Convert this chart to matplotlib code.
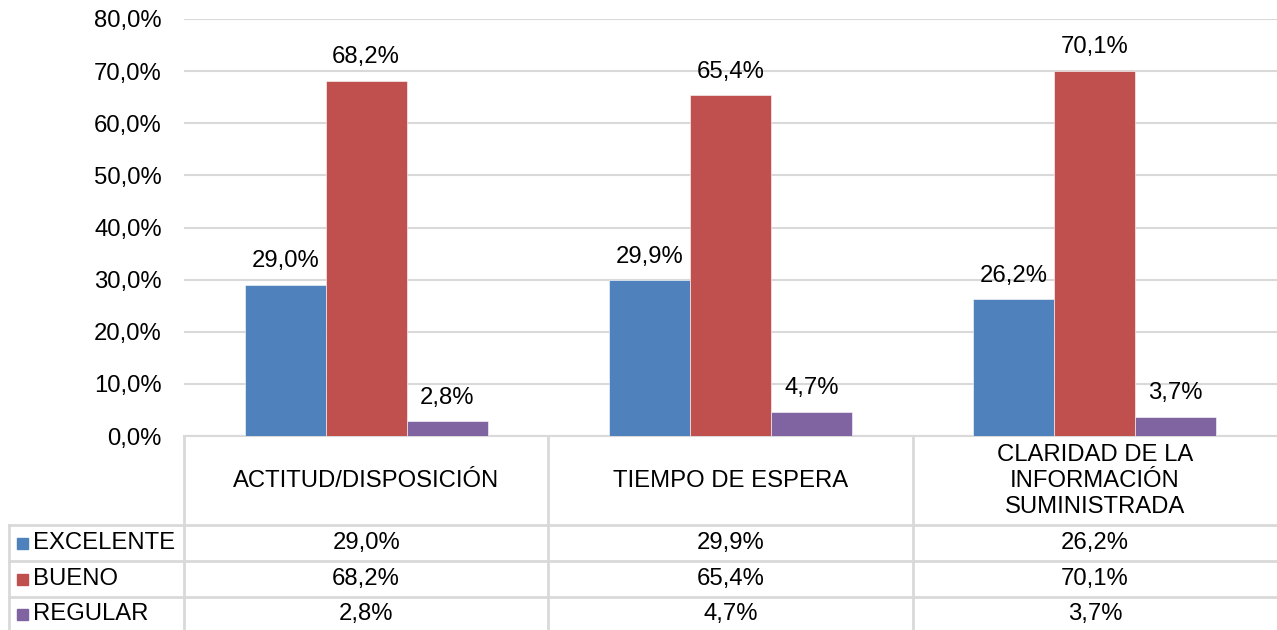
import matplotlib
matplotlib.use("Agg")
import matplotlib.pyplot as plt
import matplotlib.transforms as mtransforms
from matplotlib.lines import Line2D
from matplotlib.patches import Rectangle

plt.rcParams['font.family'] = ['Liberation Sans', 'DejaVu Sans']

categories = ["ACTITUD/DISPOSICIÓN", "TIEMPO DE ESPERA",
              "CLARIDAD DE LA\nINFORMACIÓN\nSUMINISTRADA"]
series = ["EXCELENTE", "BUENO", "REGULAR"]
excelente = [29.0, 29.9, 26.2]
bueno = [68.2, 65.4, 70.1]
regular = [2.8, 4.7, 3.7]
colors = ["#4f81bd", "#c0504d", "#8064a2"]
yticks = [0, 10, 20, 30, 40, 50, 60, 70, 80]

W, H = 1277, 630
FS = 17.2
GRID = "#d9d9d9"


def pct(v):
    return f"{v:.1f}%".replace(".", ",")


def fy(y):
    return 1 - y / H


def fx(x):
    return x / W


fig = plt.figure(figsize=(W / 100, H / 100), dpi=100)
ax = fig.add_axes([fx(184), fy(436), fx(1277) - fx(184), fy(19) - fy(436)])

values = [excelente, bueno, regular]
bw = 1 / 4.5
for k, (vals, c) in enumerate(zip(values, colors)):
    xs = [i + (k - 1) * bw for i in range(len(categories))]
    ax.bar(xs, vals, width=bw, color=c, edgecolor="white", linewidth=0.4, zorder=3)
    for x, v in zip(xs, vals):
        ax.annotate(pct(v), (x, v), xytext=(0, 9), textcoords="offset points",
                    ha="center", va="bottom", fontsize=FS)

ax.set_xlim(-0.5, len(categories) - 0.5)
ax.set_ylim(0, 80)
ax.set_yticks(yticks)
ax.set_yticklabels([pct(t) for t in yticks], fontsize=FS)
ax.tick_params(axis="y", length=0, pad=16)
ax.set_xticks([])
ax.grid(axis="y", color=GRID, linewidth=1.5, zorder=0)
for s in ["top", "right", "left"]:
    ax.spines[s].set_visible(False)
ax.spines["bottom"].set_color(GRID)
ax.spines["bottom"].set_linewidth(1.5)

# data table below the chart
tr = mtransforms.blended_transform_factory(ax.transData, fig.transFigure)


def hline(x0, x1, y):
    fig.add_artist(Line2D([fx(x0), fx(x1)], [fy(y), fy(y)], color=GRID, lw=2,
                          transform=fig.transFigure))


def vline(x, y0, y1):
    fig.add_artist(Line2D([fx(x), fx(x)], [fy(y0), fy(y1)], color=GRID, lw=2,
                          transform=fig.transFigure))


for y in [525, 561, 597]:
    hline(9, 1277, y)
for x in [184, 548, 913]:
    vline(x, 436, 630)
vline(9, 525, 630)

for i, cat in enumerate(categories):
    fig.text(i, fy(481), cat, transform=tr, ha="center", va="center",
             fontsize=FS, linespacing=1.25)

row_y = [543, 579, 614]
for k, (name, vals, c) in enumerate(zip(series, values, colors)):
    fig.add_artist(Rectangle((fx(17), fy(row_y[k] + 6)), fx(11), 11 / H,
                             color=c, transform=fig.transFigure))
    fig.text(fx(33), fy(row_y[k]), name, ha="left", va="center", fontsize=FS)
    for i, v in enumerate(vals):
        fig.text(i, fy(row_y[k]), pct(v), transform=tr, ha="center",
                 va="center", fontsize=FS)

fig.savefig("out.png", dpi=100)
